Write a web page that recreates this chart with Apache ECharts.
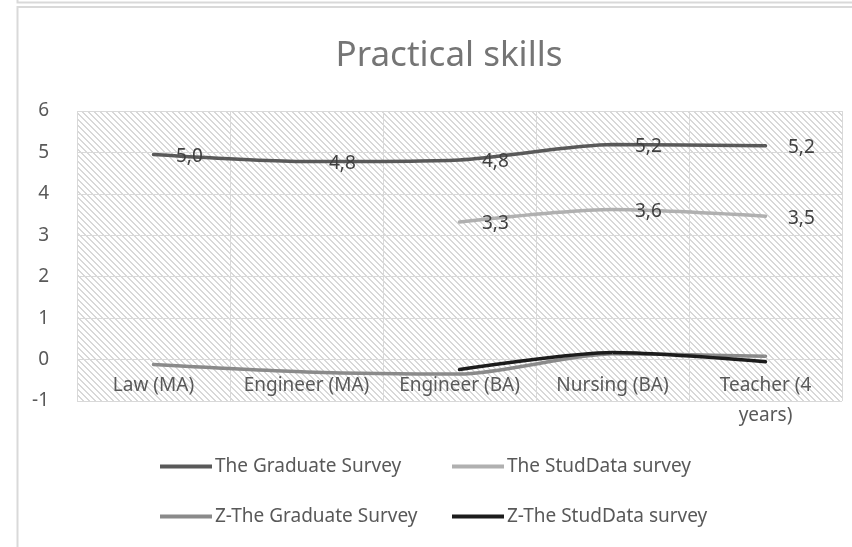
<!DOCTYPE html>
<html>
<head>
<meta charset="utf-8">
<script src="https://cdn.jsdelivr.net/npm/echarts@6/dist/echarts.min.js"></script>
<style>
html,body{margin:0;padding:0;background:#fff;}
#c{width:852px;height:547px;}
</style>
</head>
<body>
<div id="c"></div>
<script>
const categories = ['Law (MA)', 'Engineer (MA)', 'Engineer (BA)', 'Nursing (BA)', 'Teacher (4\nyears)'];
const graduateSurvey = [4.95, 4.78, 4.82, 5.19, 5.16];
const studDataSurvey = [null, null, 3.32, 3.62, 3.46];
const zGraduateSurvey = [-0.12, -0.30, -0.35, 0.14, 0.08];
const zStudDataSurvey = [null, null, -0.24, 0.17, -0.05];
const seriesNames = ['The Graduate Survey', 'The StudData survey', 'Z-The Graduate Survey', 'Z-The StudData survey'];
const yTicks = { min: -1, max: 6, interval: 1 };
const titleText = 'Practical skills';

const FONT = 'Noto Sans';

function hatch() {
  const p = 6;
  const cv = document.createElement('canvas');
  cv.width = p; cv.height = p;
  const ctx = cv.getContext('2d');
  ctx.fillStyle = '#ffffff';
  ctx.fillRect(0, 0, p, p);
  const img = ctx.getImageData(0, 0, p, p);
  for (let y = 0; y < p; y++) {
    for (let x = 0; x < p; x++) {
      const d = ((x - y) % p + p) % p;
      if (d === 0 || d === 1) {
        const i = (y * p + x) * 4;
        img.data[i] = 216; img.data[i + 1] = 216; img.data[i + 2] = 216; img.data[i + 3] = 255;
      }
    }
  }
  ctx.putImageData(img, 0, 0);
  return cv;
}

const chart = echarts.init(document.getElementById('c'), null, { renderer: 'canvas' });

const labelFmt = p => (p.value == null ? '' : Number(p.value).toFixed(1).replace('.', ','));

function lineSeries(name, data, color, withLabel) {
  return {
    name: name,
    type: 'line',
    data: data,
    smooth: 0.25,
    symbol: 'circle',
    symbolSize: 1,
    showSymbol: true,
    itemStyle: { color: color },
    lineStyle: { color: color, width: 3.5, cap: 'round' },
    emphasis: { disabled: true },
    label: withLabel ? {
      show: true,
      position: 'right',
      distance: 22,
      offset: [0, 2],
      formatter: labelFmt,
      fontFamily: FONT,
      fontSize: 19,
      color: '#404040'
    } : { show: false }
  };
}

const legendBase = {
  orient: 'horizontal',
  icon: 'rect',
  itemWidth: 52,
  itemHeight: 4,
  padding: 0,
  itemGap: 4,
  selectedMode: false,
  textStyle: { fontFamily: FONT, fontSize: 19, color: '#595959', padding: [0, 0, 0, -2] }
};

const option = {
  backgroundColor: '#ffffff',
  animation: false,
  title: {
    text: titleText,
    left: 444,
    top: 34,
    textAlign: 'center',
    textStyle: { fontFamily: FONT, fontSize: 35, fontWeight: 'normal', color: '#757575' }
  },
  graphic: [
    { type: 'polyline', shape: { points: [[17.5, 0], [17.5, 2.5], [852, 2.5]] }, style: { stroke: '#d9d9d9', lineWidth: 2, fill: null }, silent: true },
    { type: 'polyline', shape: { points: [[852, 7], [17.5, 7], [17.5, 547]] }, style: { stroke: '#d9d9d9', lineWidth: 2, fill: null }, silent: true }
  ],
  grid: {
    left: 77,
    right: 10,
    top: 111,
    bottom: 146,
    show: true,
    backgroundColor: { image: hatch(), repeat: 'repeat' },
    borderWidth: 0
  },
  legend: [
    Object.assign({}, legendBase, { data: [seriesNames[0]], left: 160, top: 457 }),
    Object.assign({}, legendBase, { data: [seriesNames[1]], left: 452, top: 457 }),
    Object.assign({}, legendBase, { data: [seriesNames[2]], left: 160, top: 507 }),
    Object.assign({}, legendBase, { data: [seriesNames[3]], left: 452, top: 507 })
  ],
  xAxis: {
    type: 'category',
    data: categories,
    boundaryGap: true,
    position: 'bottom',
    offset: -41.43,
    axisLine: { show: false, onZero: false },
    axisTick: { show: false },
    splitLine: { show: true, interval: 0, lineStyle: { color: '#d9d9d9', width: 1 } },
    axisLabel: {
      interval: 0,
      margin: 11,
      fontFamily: FONT,
      fontSize: 19,
      lineHeight: 30,
      color: '#595959',
      align: 'center'
    }
  },
  yAxis: {
    type: 'value',
    min: yTicks.min,
    max: yTicks.max,
    interval: yTicks.interval,
    axisLine: { show: false },
    axisTick: { show: false },
    splitLine: { show: true, lineStyle: { color: '#d9d9d9', width: 1 } },
    axisLabel: {
      margin: 28,
      fontFamily: FONT,
      fontSize: 19,
      color: '#595959'
    }
  },
  series: [
    lineSeries(seriesNames[0], graduateSurvey, '#595959', true),
    lineSeries(seriesNames[1], studDataSurvey, '#b0b0b0', true),
    lineSeries(seriesNames[2], zGraduateSurvey, '#8a8a8a', false),
    lineSeries(seriesNames[3], zStudDataSurvey, '#1c1c1c', false)
  ]
};

chart.setOption(option);
</script>
</body>
</html>
